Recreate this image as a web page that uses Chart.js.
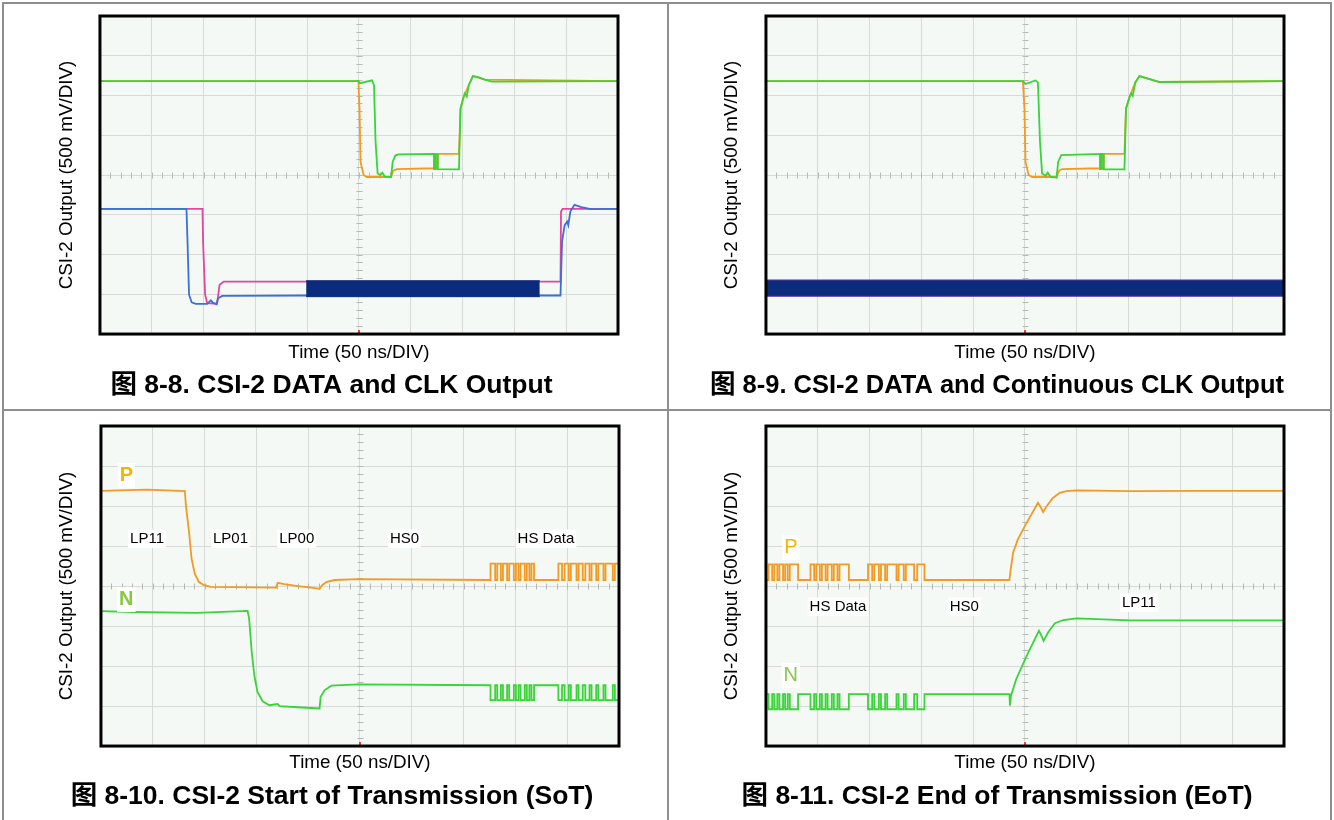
<!DOCTYPE html>
<html>
<head>
<meta charset="utf-8">
<title>CSI-2 output waveforms</title>
<script src="https://cdn.jsdelivr.net/npm/chart.js@4.4.0/dist/chart.umd.min.js"></script>
<style>
  body { margin: 0; background: #fff; }
  #page { position: relative; width: 1334px; height: 820px; overflow: hidden; }
  .rule { position: absolute; background: #8e8e8e; }
  canvas { position: absolute; }
</style>
</head>
<body>
<div id="page">
  <div class="rule" style="left:2px;top:2px;width:1330px;height:2px"></div>
  <div class="rule" style="left:2px;top:2px;width:2px;height:820px"></div>
  <div class="rule" style="left:1330px;top:2px;width:2px;height:820px"></div>
  <div class="rule" style="left:667px;top:2px;width:2px;height:820px"></div>
  <div class="rule" style="left:2px;top:409px;width:1330px;height:2px"></div>
  <canvas id="fig88" width="662" height="404" style="left:5px;top:5px"></canvas>
  <canvas id="fig89" width="660" height="404" style="left:670px;top:5px"></canvas>
  <canvas id="fig810" width="662" height="408" style="left:5px;top:412px"></canvas>
  <canvas id="fig811" width="660" height="408" style="left:670px;top:412px"></canvas>
</div>
<script>
// Screen units: x in time divisions (0..10, 50 ns each), y in volt divisions (0..8, 500 mV each)

// 8-8: data lane (P/N) and gated clock lane
const fig88DataN = [[0,6.36],[4.99,6.36],[5.02,6.31],[5.25,6.38],[5.29,6.26],[5.32,4.84],[5.36,4.04],[5.41,4.0],[5.45,4.06],[5.5,3.96],[5.62,3.95],[5.65,4.33],[5.7,4.49],[5.76,4.52],[6.45,4.53],[6.45,4.15],[6.48,4.15],[6.48,4.52],[6.52,4.52],[6.52,4.15],[6.93,4.14],[6.96,5.67],[7.01,5.92],[7.04,6.05],[7.08,5.97],[7.12,6.26],[7.2,6.49],[7.3,6.46],[7.43,6.4],[7.56,6.35],[10,6.36]];
const fig88DataP = [[0,6.36],[4.99,6.36],[5.01,5.67],[5.03,4.33],[5.09,4.0],[5.15,3.95],[5.62,3.95],[5.66,4.11],[5.73,4.15],[6.45,4.17],[6.45,4.53],[6.48,4.53],[6.48,4.17],[6.52,4.17],[6.52,4.53],[6.93,4.53],[6.96,5.67],[7.01,5.92],[7.12,6.26],[7.2,6.49],[7.43,6.4],[10,6.36]];
const fig88ClkN = [[0,3.15],[1.67,3.15],[1.69,2.33],[1.72,0.99],[1.77,0.8],[1.85,0.76],[2.07,0.76],[2.14,0.85],[2.18,0.79],[2.25,0.75],[2.28,0.9],[2.36,0.96],[3.98,0.97],[8.89,0.97],[8.92,2.33],[8.97,2.74],[9.02,2.83],[9.04,2.74],[9.08,3.08],[9.16,3.25],[9.29,3.19],[9.48,3.14],[10,3.15]];
const fig88ClkP = [[0,3.15],[1.98,3.15],[1.99,2.33],[2.03,0.99],[2.07,0.78],[2.26,0.76],[2.31,1.24],[2.39,1.32],[8.89,1.32],[8.9,3.08],[8.93,3.15],[10,3.15]];
const fig88BurstTop = [[3.98,1.34],[8.49,1.34]];
const fig88BurstBottom = [[3.98,0.94],[8.49,0.94]];

// 8-9: data lane with a free-running clock
const fig89DataN = [[0,6.36],[4.96,6.36],[5.01,6.29],[5.2,6.38],[5.25,6.33],[5.29,4.84],[5.33,4.04],[5.4,3.98],[5.44,4.06],[5.49,3.96],[5.61,3.93],[5.64,4.33],[5.7,4.5],[6.45,4.53],[6.45,4.15],[6.48,4.15],[6.48,4.53],[6.52,4.53],[6.52,4.14],[6.92,4.14],[6.95,5.67],[7.02,5.97],[7.05,6.05],[7.08,5.99],[7.13,6.33],[7.21,6.49],[7.34,6.44],[7.6,6.34],[10,6.36]];
const fig89DataP = [[0,6.36],[4.96,6.36],[4.99,5.67],[5.01,4.33],[5.07,4.0],[5.14,3.95],[5.61,3.95],[5.66,4.11],[5.72,4.15],[6.45,4.17],[6.45,4.53],[6.48,4.53],[6.48,4.17],[6.52,4.17],[6.52,4.53],[6.92,4.53],[6.95,5.67],[7.02,5.97],[7.13,6.33],[7.21,6.49],[7.6,6.34],[10,6.36]];
const fig89ClkTop = [[0,1.36],[10,1.36]];
const fig89ClkBottom = [[0,0.95],[10,0.95]];

// 8-10: start of transmission
const sotP = [[0,6.38],[0.89,6.41],[1.62,6.37],[1.64,6.01],[1.7,5.35],[1.75,4.68],[1.81,4.31],[1.89,4.1],[1.99,4.02],[2.12,3.98],[3.38,3.96],[3.41,4.08],[3.54,4.05],[3.8,4.0],[4.06,3.96],[4.22,3.93],[4.27,4.02],[4.35,4.1],[4.51,4.15],[4.96,4.17],[7.49,4.15]];
const sotN = [[0,3.37],[0.6,3.35],[1.85,3.33],[2.83,3.38],[2.86,3.19],[2.91,2.35],[2.96,1.77],[3.02,1.36],[3.12,1.12],[3.25,1.02],[3.41,1.05],[3.45,1.0],[3.8,0.97],[4.22,0.94],[4.24,1.23],[4.32,1.4],[4.45,1.51],[4.96,1.54],[7.49,1.52]];
const sotHsEdges = [7.52,7.61,7.65,7.72,7.76,7.84,7.88,7.97,8.01,8.06,8.1,8.18,8.22,8.27,8.31,8.36,8.83,8.9,8.95,9.03,9.07,9.18,9.22,9.3,9.35,9.43,9.47,9.56,9.6,9.7,9.74,9.88,9.92];
const sotHsLevelsP = [4.15, 4.56];
const sotHsLevelsN = [1.52, 1.15];

// 8-11: end of transmission
const eotHsEdges = [0.05,0.12,0.16,0.22,0.26,0.33,0.37,0.42,0.46,0.62,0.86,0.93,0.97,1.04,1.08,1.15,1.19,1.27,1.31,1.38,1.42,1.6,1.97,2.05,2.09,2.18,2.22,2.3,2.34,2.52,2.56,2.66,2.7,2.86,2.92,3.06];
const eotHsLevelsP = [4.15, 4.54];
const eotHsLevelsN = [1.30, 0.92];
const eotP = [[3.08,4.15],[4.7,4.15],[4.72,4.37],[4.77,4.83],[4.86,5.16],[5.03,5.58],[5.16,5.87],[5.25,6.08],[5.3,5.98],[5.35,5.85],[5.41,5.98],[5.54,6.2],[5.67,6.33],[5.8,6.37],[6.0,6.39],[7.03,6.37],[8.33,6.38],[10,6.38]];
const eotN = [[3.08,1.3],[4.7,1.3],[4.71,1.01],[4.73,1.26],[4.83,1.67],[5.03,2.25],[5.19,2.67],[5.27,2.88],[5.32,2.75],[5.36,2.63],[5.45,2.85],[5.58,3.07],[5.74,3.15],[6.0,3.19],[7.03,3.14],[10,3.14]];

const FONT = "'Liberation Sans', Arial, 'Noto Sans CJK SC', sans-serif";
const GREEN = '#38d438', ORANGE = '#f39a22', BLUE = '#3d6fd8', PINK = '#e2469e', NAVY = '#0b2b7c';

// expand toggle instants into a square wave between two levels
function toggles(edges, from, to, levels) {
  const pts = [[from, levels[0]]];
  let k = 0;
  edges.forEach(t => {
    pts.push([t, levels[k]]);
    k = 1 - k;
    pts.push([t, levels[k]]);
  });
  pts.push([to, levels[k]]);
  return pts;
}

function trace(points, color, extra) {
  return Object.assign({
    data: points.map(p => ({x: p[0], y: p[1]})),
    borderColor: color,
    borderWidth: 1.8,
    pointRadius: 0,
    fill: false,
    tension: 0
  }, extra || {});
}

// screen background, centre graticule ticks, text marks and bezel
const scopeScreen = {
  id: 'scopeScreen',
  beforeDraw(chart) {
    const {ctx, chartArea: a} = chart;
    ctx.save();
    ctx.fillStyle = '#f4f9f5';
    ctx.fillRect(a.left, a.top, a.width, a.height);
    ctx.restore();
  },
  beforeDatasetsDraw(chart) {
    const {ctx, scales: {x, y}} = chart;
    const cx = Math.round(x.getPixelForValue(5)) + 0.5;
    const cy = Math.round(y.getPixelForValue(4)) + 0.5;
    ctx.save();
    ctx.strokeStyle = '#b5bab6';
    ctx.lineWidth = 1;
    ctx.beginPath();
    for (let v = 0.2; v < 9.95; v += 0.2) {
      const px = Math.round(x.getPixelForValue(v)) + 0.5;
      ctx.moveTo(px, cy - 3); ctx.lineTo(px, cy + 3);
    }
    for (let v = 0.2; v < 7.95; v += 0.2) {
      const py = Math.round(y.getPixelForValue(v)) + 0.5;
      ctx.moveTo(cx - 3, py); ctx.lineTo(cx + 3, py);
    }
    ctx.stroke();
    ctx.restore();
  },
  afterDatasetsDraw(chart, args, opts) {
    const {ctx, scales: {x, y}} = chart;
    (opts.labels || []).forEach(l => {
      ctx.save();
      ctx.font = (l.bold ? 'bold ' : '') + l.size + 'px ' + FONT;
      const w = ctx.measureText(l.text).width;
      const px = x.getPixelForValue(l.x), py = y.getPixelForValue(l.y);
      ctx.fillStyle = '#fff';
      ctx.fillRect(px - w / 2 - 2, py - l.size * 0.62, w + 4, l.size * 1.24);
      ctx.fillStyle = l.color;
      ctx.textAlign = 'center';
      ctx.textBaseline = 'middle';
      ctx.fillText(l.text, px, py);
      ctx.restore();
    });
  },
  afterDraw(chart) {
    const {ctx, chartArea: a, scales: {x}} = chart;
    ctx.save();
    ctx.fillStyle = '#e5452c';
    ctx.fillRect(x.getPixelForValue(5) - 1, a.bottom - 4, 2, 3);
    ctx.strokeStyle = '#000';
    ctx.lineWidth = 3;
    ctx.strokeRect(a.left, a.top, a.width, a.height);
    ctx.restore();
  }
};

function scopeChart(id, datasets, cfg) {
  const grid = {color: '#d6dbd7', lineWidth: 1, drawTicks: false};
  return new Chart(document.getElementById(id), {
    type: 'line',
    data: {datasets: datasets},
    options: {
      responsive: false,
      animation: false,
      devicePixelRatio: 1,
      layout: {padding: cfg.pad},
      scales: {
        x: {
          type: 'linear', min: 0, max: 10,
          ticks: {display: false, stepSize: 1},
          grid: grid, border: {display: false},
          title: {display: true, text: 'Time (50 ns/DIV)', color: '#000',
                  font: {family: FONT, size: 18.8}, padding: {top: cfg.xTitleGap, bottom: 0}}
        },
        y: {
          min: 0, max: 8,
          ticks: {display: false, stepSize: 1},
          grid: grid, border: {display: false},
          title: {display: true, text: 'CSI-2 Output (500 mV/DIV)', color: '#000',
                  font: {family: FONT, size: 18.8}, padding: {top: 10.7, bottom: cfg.yTitleGap}}
        }
      },
      plugins: {
        legend: {display: false},
        tooltip: {enabled: false},
        title: {display: true, position: 'bottom', text: cfg.caption, color: '#000',
                font: {family: FONT, size: 26.5, weight: 'bold'}, padding: {top: cfg.captionGap, bottom: 0}},
        scopeScreen: {labels: cfg.labels || []}
      }
    },
    plugins: [scopeScreen]
  });
}

window.onload = function() {
  scopeChart('fig88', [
    trace(fig88DataN, GREEN),
    trace(fig88DataP, ORANGE),
    trace(fig88BurstTop, NAVY, {borderWidth: 1}),
    trace(fig88BurstBottom, NAVY, {borderWidth: 1, fill: '-1', backgroundColor: NAVY}),
    trace(fig88ClkN, BLUE),
    trace(fig88ClkP, PINK)
  ], {pad: {left: 40, right: 49, top: 11, bottom: 7.1}, yTitleGap: 21.7, xTitleGap: 7.7,
      captionGap: 5.8, caption: '图 8-8. CSI-2 DATA and CLK Output'});

  scopeChart('fig89', [
    trace(fig89DataN, GREEN),
    trace(fig89DataP, ORANGE),
    trace(fig89ClkTop, '#5b3f9e', {borderWidth: 1}),
    trace(fig89ClkBottom, '#5b3f9e', {borderWidth: 1, fill: '-1', backgroundColor: NAVY})
  ], {pad: {left: 40, right: 46, top: 11, bottom: 7.1}, yTitleGap: 22.7, xTitleGap: 7.7,
      captionGap: 5.8, caption: '图 8-9. CSI-2 DATA and Continuous CLK Output'});

  scopeChart('fig810', [
    trace(sotN.concat(toggles(sotHsEdges, 7.49, 10, sotHsLevelsN)), GREEN),
    trace(sotP.concat(toggles(sotHsEdges, 7.49, 10, sotHsLevelsP)), ORANGE)
  ], {pad: {left: 40, right: 48, top: 14, bottom: 7.1}, yTitleGap: 22.7, xTitleGap: 5.7,
      captionGap: 6.8, caption: '图 8-10. CSI-2 Start of Transmission (SoT)',
      labels: [
        {text: 'P', x: 0.49, y: 6.76, size: 20, bold: true, color: '#f5b400'},
        {text: 'N', x: 0.49, y: 3.66, size: 20, bold: true, color: '#86c846'},
        {text: 'LP11', x: 0.89, y: 5.18, size: 15, color: '#000'},
        {text: 'LP01', x: 2.5, y: 5.18, size: 15, color: '#000'},
        {text: 'LP00', x: 3.78, y: 5.18, size: 15, color: '#000'},
        {text: 'HS0', x: 5.86, y: 5.18, size: 15, color: '#000'},
        {text: 'HS Data', x: 8.59, y: 5.18, size: 15, color: '#000'}
      ]});

  scopeChart('fig811', [
    trace(toggles(eotHsEdges, 0, 3.08, eotHsLevelsN).concat(eotN), GREEN),
    trace(toggles(eotHsEdges, 0, 3.08, eotHsLevelsP).concat(eotP), ORANGE)
  ], {pad: {left: 40, right: 46, top: 14, bottom: 7.1}, yTitleGap: 22.7, xTitleGap: 5.7,
      captionGap: 6.8, caption: '图 8-11. CSI-2 End of Transmission (EoT)',
      labels: [
        {text: 'P', x: 0.48, y: 4.96, size: 20, color: '#f5b400'},
        {text: 'N', x: 0.48, y: 1.76, size: 20, color: '#86c846'},
        {text: 'HS Data', x: 1.39, y: 3.48, size: 15, color: '#000'},
        {text: 'HS0', x: 3.83, y: 3.48, size: 15, color: '#000'},
        {text: 'LP11', x: 7.2, y: 3.58, size: 15, color: '#000'}
      ]});
};
</script>
</body>
</html>
